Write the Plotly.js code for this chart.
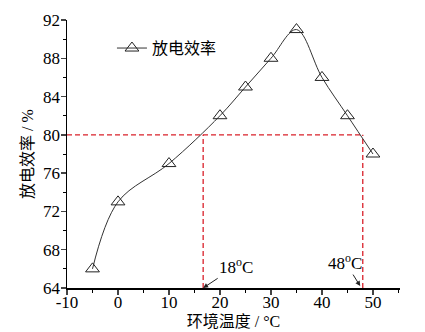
<!DOCTYPE html>
<html><head><meta charset="utf-8">
<script src="https://cdn.plot.ly/plotly-3.0.1.min.js"></script>
<style>html,body{margin:0;padding:0;background:#fff}#c{width:425px;height:332px}</style>
</head><body><div id="c"></div>
<script>
const temps = [-5, 0, 10, 20, 25, 30, 35, 40, 45, 50];
const efficiency = [66, 73, 77, 82, 85, 88, 91, 86, 82, 78];
const seriesName = '放电效率';
const refLevel = 80;
const crossTemps = [16.7, 48];
const crossLabels = ['18<sup>o</sup>C', '48<sup>o</sup>C'];
const xTicks = [-10, 0, 10, 20, 30, 40, 50];
const xTickText = ['-10', '0', '10', '20', '30', '40', '50'];
const yTicks = [64, 68, 72, 76, 80, 84, 88, 92];

const FONT = '"Liberation Serif", "Times New Roman", serif';
const CJK = '"Liberation Serif", "Noto Sans CJK SC", serif';
const red = '#d9202a';

const traces = [
  {x: [-10, crossTemps[1]], y: [refLevel, refLevel], mode: 'lines', showlegend: false, hoverinfo: 'skip',
   line: {color: red, width: 1.3, dash: '5px,3px'}},
  {x: [crossTemps[0], crossTemps[0], null, crossTemps[1], crossTemps[1]], y: [64, refLevel, null, 64, refLevel],
   mode: 'lines', showlegend: false, hoverinfo: 'skip', line: {color: red, width: 1.3, dash: '5px,3px'}},
  {x: temps, y: efficiency, name: seriesName, mode: 'lines+markers',
   line: {shape: 'spline', smoothing: 1, color: '#333', width: 1},
   marker: {symbol: 'triangle-up-open', size: 12, color: '#222', line: {width: 1, color: '#222'}}}
];

const layout = {
  width: 425, height: 332,
  margin: {l: 67, r: 25, t: 20, b: 44},
  paper_bgcolor: '#fff', plot_bgcolor: '#fff',
  font: {family: FONT, size: 16, color: '#000'},
  showlegend: true,
  legend: {x: 0.135, y: 0.895, xanchor: 'left', yanchor: 'middle', bgcolor: 'rgba(0,0,0,0)',
           font: {family: CJK, size: 16, color: '#000'}, itemwidth: 30},
  xaxis: {range: [-10, 55.3], tickvals: xTicks, ticktext: xTickText, ticks: 'outside', ticklen: 5, tickwidth: 1.3,
          showline: true, linecolor: '#000', linewidth: 1.5, showgrid: false, zeroline: false,
          ticklabelstandoff: -7,
          minor: {dtick: 5, tick0: 0, ticks: 'outside', ticklen: 3, tickwidth: 1, tickcolor: '#000', showgrid: false},
          tickfont: {family: FONT, size: 17, color: '#000'},
          title: {text: '环境温度 / °C', font: {family: CJK, size: 16, color: '#000'}, standoff: 2}},
  yaxis: {range: [64, 92], tickvals: yTicks, ticks: 'outside', ticklen: 5, tickwidth: 1.3,
          showline: true, linecolor: '#000', linewidth: 1.5, showgrid: false, zeroline: false,
          ticklabelstandoff: -3,
          minor: {dtick: 2, tick0: 0, ticks: 'outside', ticklen: 3, tickwidth: 1, tickcolor: '#000', showgrid: false},
          tickfont: {family: FONT, size: 17, color: '#000'},
          title: {text: '放电效率 / %', font: {family: CJK, size: 16, color: '#000'}, standoff: 5}},
  annotations: [
    {x: crossTemps[0], y: 64, xref: 'x', yref: 'y', text: crossLabels[0], showarrow: true,
     ax: 33, ay: -22, arrowhead: 2, arrowsize: 1, arrowwidth: 1, arrowcolor: '#222',
     font: {family: FONT, size: 17, color: '#000'}},
    {x: 47.5, y: 64.2, xref: 'x', yref: 'y', text: crossLabels[1], showarrow: true,
     ax: -15, ay: -24, arrowhead: 2, arrowsize: 1, arrowwidth: 1, arrowcolor: '#222',
     font: {family: FONT, size: 17, color: '#000'}}
  ]
};
Plotly.newPlot('c', traces, layout, {displayModeBar: false, staticPlot: true});
</script></body></html>
